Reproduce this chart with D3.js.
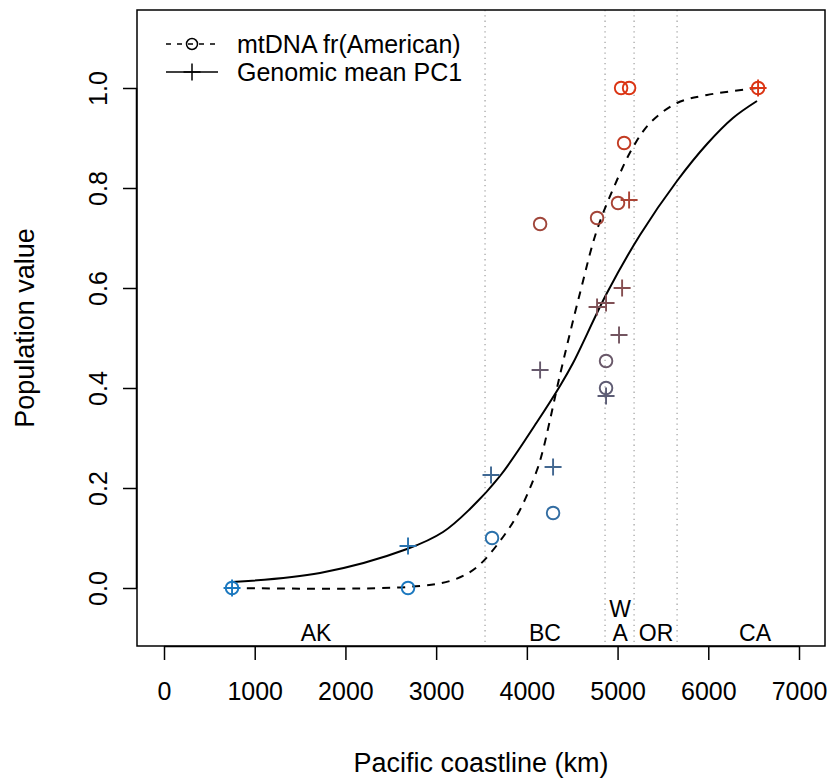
<!DOCTYPE html>
<html>
<head>
<meta charset="utf-8">
<script src="https://cdn.jsdelivr.net/npm/d3@7"></script>
<style>
  body { margin: 0; background: #fff; }
  svg { display: block; font-family: "Liberation Sans", Arial, sans-serif; }
</style>
</head>
<body>
<svg id="chart" width="832" height="778"></svg>
<script>
// ---- data ----
const xTicks = [0, 1000, 2000, 3000, 4000, 5000, 6000, 7000];
const yTicks = [0.0, 0.2, 0.4, 0.6, 0.8, 1.0];

const mtdnaKm  = [750, 2690, 3616, 4289, 4146, 4774, 5005, 5072, 5039, 5127, 6549, 4873, 4873];
const mtdnaVal = [0.0, 0.0, 0.10, 0.15, 0.728, 0.74, 0.77, 0.89, 1.0, 1.0, 1.0, 0.454, 0.40];

const genomicKm  = [750, 2690, 3605, 4289, 4146, 4873, 5016, 4774, 4873, 5050, 5127, 6549];
const genomicVal = [0.0, 0.084, 0.226, 0.242, 0.436, 0.384, 0.506, 0.562, 0.57, 0.60, 0.776, 1.0];

// fitted cline curves
const mtdnaCurveKm  = [750, 2679, 3186, 3450, 3737, 3924, 4112, 4178, 4255, 4365, 4586, 4773, 4994, 5171, 5358, 5655, 5986, 6537];
const mtdnaCurveVal = [0.0, 0.002, 0.016, 0.042, 0.102, 0.156, 0.236, 0.276, 0.336, 0.426, 0.590, 0.716, 0.816, 0.882, 0.930, 0.970, 0.986, 1.0];

const genomicCurveKm  = [750, 1720, 2679, 3076, 3373, 3704, 4112, 4365, 4509, 4883, 5247, 5655, 5986, 6272, 6537];
const genomicCurveVal = [0.012, 0.030, 0.078, 0.112, 0.158, 0.224, 0.332, 0.404, 0.450, 0.590, 0.706, 0.814, 0.888, 0.940, 0.974];

// region boundaries and labels
const regionBreaksKm = [3539, 4862, 5182, 5656];
const regionLabels   = ["AK", "BC", "W\nA", "OR", "CA"];
const regionLabelKm  = [1676, 4200, 5028, 5424, 6516];

const legendLabels = ["mtDNA fr(American)", "Genomic mean PC1"];

// ---- layout ----
const svg = d3.select("#chart");
const box = { left: 137, right: 825, top: 10, bottom: 646 };

const x = d3.scaleLinear().domain([0, 7000]).range([164, 799]);
const y = d3.scaleLinear().domain([0, 1]).range([588, 88]);
const color = d3.scaleLinear().domain([0, 1])
  .range(["#1b78bf", "#db3514"]).interpolate(d3.interpolateRgb.gamma(0.8));

// dotted region lines
svg.append("g").selectAll("line").data(regionBreaksKm).join("line")
  .attr("x1", d => x(d)).attr("x2", d => x(d))
  .attr("y1", box.top).attr("y2", box.bottom)
  .attr("stroke", "#a6a6a6").attr("stroke-width", 1.3)
  .attr("stroke-dasharray", "1.3,4");

// region labels
const rl = svg.append("g").attr("font-size", 23).attr("fill", "#000").attr("text-anchor", "middle");
regionLabels.forEach((lab, i) => {
  const parts = lab.split("\n");
  parts.forEach((p, j) => {
    rl.append("text")
      .attr("x", x(regionLabelKm[i]))
      .attr("y", 641 - (parts.length - 1 - j) * 24)
      .text(p);
  });
});

// curves
const line = d3.line().x(d => x(d[0])).y(d => y(d[1])).curve(d3.curveCatmullRom.alpha(0.5));
svg.append("path")
  .datum(mtdnaCurveKm.map((k, i) => [k, mtdnaCurveVal[i]]))
  .attr("d", line).attr("fill", "none").attr("stroke", "#000")
  .attr("stroke-width", 2).attr("stroke-dasharray", "8,7");
svg.append("path")
  .datum(genomicCurveKm.map((k, i) => [k, genomicCurveVal[i]]))
  .attr("d", line).attr("fill", "none").attr("stroke", "#000")
  .attr("stroke-width", 2);

// points: circles
svg.append("g").selectAll("circle").data(mtdnaKm.map((k, i) => [k, mtdnaVal[i]])).join("circle")
  .attr("cx", d => x(d[0])).attr("cy", d => y(d[1])).attr("r", 6.3)
  .attr("fill", "none").attr("stroke", d => color(d[1])).attr("stroke-width", 1.9);

// points: crosses
const cs = 8.5;
svg.append("g").selectAll("path").data(genomicKm.map((k, i) => [k, genomicVal[i]])).join("path")
  .attr("d", d => {
    const px = x(d[0]), py = y(d[1]);
    return `M${px - cs},${py}H${px + cs}M${px},${py - cs}V${py + cs}`;
  })
  .attr("fill", "none").attr("stroke", d => color(d[1])).attr("stroke-width", 1.9);

// box
svg.append("rect")
  .attr("x", box.left).attr("y", box.top)
  .attr("width", box.right - box.left).attr("height", box.bottom - box.top)
  .attr("fill", "none").attr("stroke", "#000").attr("stroke-width", 1.5);

// x axis
const xAxis = d3.axisBottom(x).tickValues(xTicks).tickSize(14).tickPadding(22).tickFormat(d3.format("d"));
const gx = svg.append("g").attr("transform", `translate(0,${box.bottom})`).call(xAxis);
gx.select(".domain").attr("d", `M${x(0)},0.5H${x(7000)}`).attr("stroke-width", 1.5);
gx.selectAll(".tick line").attr("stroke-width", 1.5);
gx.selectAll(".tick text").attr("font-size", 25).attr("font-family", "Liberation Sans, Arial, sans-serif").attr("fill", "#000");

// y axis
const yAxis = d3.axisLeft(y).tickValues(yTicks).tickSize(14).tickPadding(0).tickFormat(d3.format(".1f"));
const gy = svg.append("g").attr("transform", `translate(${box.left},0)`).call(yAxis);
gy.select(".domain").attr("d", `M-0.5,${y(0)}V${y(1)}`).attr("stroke-width", 1.5);
gy.selectAll(".tick line").attr("stroke-width", 1.5);
gy.selectAll(".tick text")
  .attr("font-size", 25).attr("font-family", "Liberation Sans, Arial, sans-serif").attr("fill", "#000")
  .attr("text-anchor", "middle").attr("x", null).attr("dy", null)
  .attr("transform", "translate(-39,0) rotate(-90)").attr("dy", "0.35em");

// axis titles
svg.append("text").attr("x", (box.left + box.right) / 2).attr("y", 763).attr("dy", "0.35em")
  .attr("text-anchor", "middle").attr("font-size", 27).text("Pacific coastline (km)");
svg.append("text").attr("transform", `translate(25,${(box.top + box.bottom) / 2}) rotate(-90)`)
  .attr("dy", "0.35em").attr("text-anchor", "middle").attr("font-size", 27).text("Population value");

// legend
const lg = svg.append("g");
const ly = [44, 72];
lg.append("line").attr("x1", 166).attr("x2", 218).attr("y1", ly[0]).attr("y2", ly[0])
  .attr("stroke", "#000").attr("stroke-width", 1.5).attr("stroke-dasharray", "5,6");
lg.append("circle").attr("cx", 192).attr("cy", ly[0]).attr("r", 5.5)
  .attr("fill", "none").attr("stroke", "#000").attr("stroke-width", 1.5);
lg.append("line").attr("x1", 166).attr("x2", 218).attr("y1", ly[1]).attr("y2", ly[1])
  .attr("stroke", "#000").attr("stroke-width", 1.5);
lg.append("path").attr("d", `M${192 - cs},${ly[1]}H${192 + cs}M192,${ly[1] - cs}V${ly[1] + cs}`)
  .attr("stroke", "#000").attr("stroke-width", 1.5);
lg.selectAll("text").data(legendLabels).join("text")
  .attr("x", 237).attr("y", (d, i) => ly[i]).attr("dy", "0.35em")
  .attr("font-size", 25).text(d => d);
</script>
</body>
</html>
